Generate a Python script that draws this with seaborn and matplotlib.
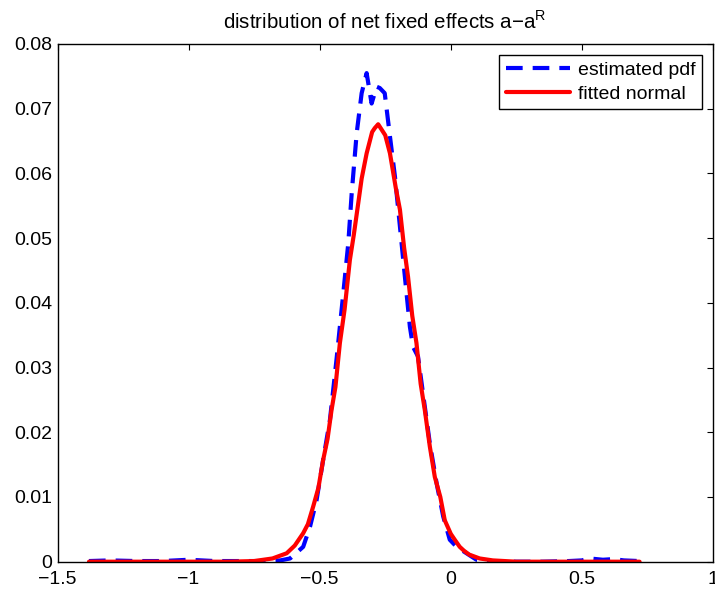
import matplotlib
matplotlib.use("Agg")
import matplotlib.pyplot as plt
import seaborn as sns
import pandas as pd

# ---- data ----
blue_x = [-1.38, -1.30, -1.20, -1.10, -1.00, -0.90, -0.80, -0.70, -0.65, -0.613,
          -0.563, -0.537, -0.512, -0.487, -0.461, -0.436, -0.410, -0.391, -0.378,
          -0.359, -0.340, -0.321, -0.302, -0.283, -0.271, -0.252, -0.232, -0.213,
          -0.194, -0.175, -0.156, -0.144, -0.125, -0.106, -0.080, -0.054, -0.029,
          -0.004, 0.022, 0.060, 0.098, 0.15, 0.25, 0.35, 0.45, 0.50, 0.53, 0.58,
          0.62, 0.66, 0.72]
blue_y = [0.0001, 0.0002, 0.0001, 0.0001, 0.0003, 0.0001, 0.0001, 0.0001, 0.0002, 0.0005,
          0.0023, 0.0054, 0.0095, 0.0157, 0.0219, 0.0312, 0.0415, 0.0492, 0.0569,
          0.0662, 0.0724, 0.0755, 0.0708, 0.0734, 0.0732, 0.0724, 0.0657, 0.0595,
          0.0518, 0.0440, 0.0363, 0.0332, 0.0317, 0.0260, 0.0183, 0.0121, 0.0070,
          0.0034, 0.0023, 0.0013, 0.0003, 0.0001, 0.0000, 0.0000, 0.0001, 0.0002, 0.0005, 0.0003,
          0.0004, 0.0002, 0.0001]

red_x = [-1.38, -1.20, -1.00, -0.85, -0.75, -0.68, -0.626, -0.595, -0.563, -0.545,
         -0.525, -0.505, -0.487, -0.470, -0.455, -0.440, -0.423, -0.405, -0.385,
         -0.370, -0.353, -0.340, -0.321, -0.300, -0.290, -0.277, -0.250, -0.232,
         -0.210, -0.194, -0.178, -0.163, -0.147, -0.131, -0.115, -0.099, -0.080,
         -0.061, -0.040, -0.023, 0.000, 0.015, 0.034, 0.050, 0.070, 0.110,
         0.16, 0.25, 0.40, 0.60, 0.72]
red_y = [0.0, 0.0, 0.0, 0.0, 0.0001, 0.0005, 0.0013, 0.0025, 0.0044, 0.0058,
         0.0085, 0.0114, 0.0157, 0.0190, 0.0234, 0.0270, 0.0338, 0.0390, 0.0466,
         0.0505, 0.0554, 0.0592, 0.0631, 0.0664, 0.0670, 0.0676, 0.0659, 0.0631,
         0.0578, 0.0544, 0.0485, 0.0440, 0.0380, 0.0338, 0.0275, 0.0234, 0.0178,
         0.0131, 0.0100, 0.0064, 0.0043, 0.0034, 0.0023, 0.0017, 0.0011, 0.0005,
         0.0002, 0.0, 0.0, 0.0, 0.0]

series_names = ["estimated pdf", "fitted normal"]
x_ticks = [-1.5, -1, -0.5, 0, 0.5, 1]
x_tick_labels = ["\u22121.5", "\u22121", "\u22120.5", "0", "0.5", "1"]
y_ticks = [0, 0.01, 0.02, 0.03, 0.04, 0.05, 0.06, 0.07, 0.08]
y_tick_labels = ["0", "0.01", "0.02", "0.03", "0.04", "0.05", "0.06", "0.07", "0.08"]
title = "distribution of net fixed effects a\u2212a$^{\\mathrm{R}}$"

df = pd.concat([
    pd.DataFrame({"x": blue_x, "y": blue_y, "series": series_names[0]}),
    pd.DataFrame({"x": red_x, "y": red_y, "series": series_names[1]}),
], ignore_index=True)

sns.set_style("white")
plt.rcParams["font.family"] = ["Liberation Sans", "DejaVu Sans"]
plt.rcParams["mathtext.fontset"] = "custom"
plt.rcParams["mathtext.rm"] = "Liberation Sans"
plt.rcParams["text.color"] = "black"

fig = plt.figure(figsize=(7.15, 5.94), dpi=100)
ax = fig.add_axes([57.5 / 715, 1 - 561.7 / 594, (713 - 57.5) / 715, (561.7 - 44) / 594])

sns.lineplot(data=df, x="x", y="y", hue="series", style="series",
             palette={series_names[0]: "#0000ff", series_names[1]: "#ff0000"},
             dashes={series_names[0]: (4, 2.4), series_names[1]: ""},
             estimator=None, sort=False, linewidth=3, ax=ax)

ax.set_xlim(-1.5, 1)
ax.set_ylim(0, 0.08)
ax.set_xticks(x_ticks)
ax.set_xticklabels(x_tick_labels)
ax.set_yticks(y_ticks)
ax.set_yticklabels(y_tick_labels)
ax.set_xlabel("")
ax.set_ylabel("")
ax.set_title(title, fontsize=14.8, pad=11, color="black")
ax.tick_params(direction="in", length=4.5, width=0.8, labelsize=14,
               top=True, right=True, colors="black", pad=4)
ax.tick_params(axis="x", pad=7)
for s in ax.spines.values():
    s.set_visible(True)
    s.set_color("black")
    s.set_linewidth(1.0)

leg = ax.legend(loc="upper right", fontsize=14, frameon=True, fancybox=False,
                edgecolor="black", handlelength=3.3, borderaxespad=0.55,
                borderpad=0.35, labelspacing=0.3, handletextpad=0.4)
leg.get_frame().set_linewidth(1.0)
leg.get_frame().set_alpha(1)
for t in leg.get_texts():
    t.set_color("black")

fig.savefig("out.png", dpi=100)
